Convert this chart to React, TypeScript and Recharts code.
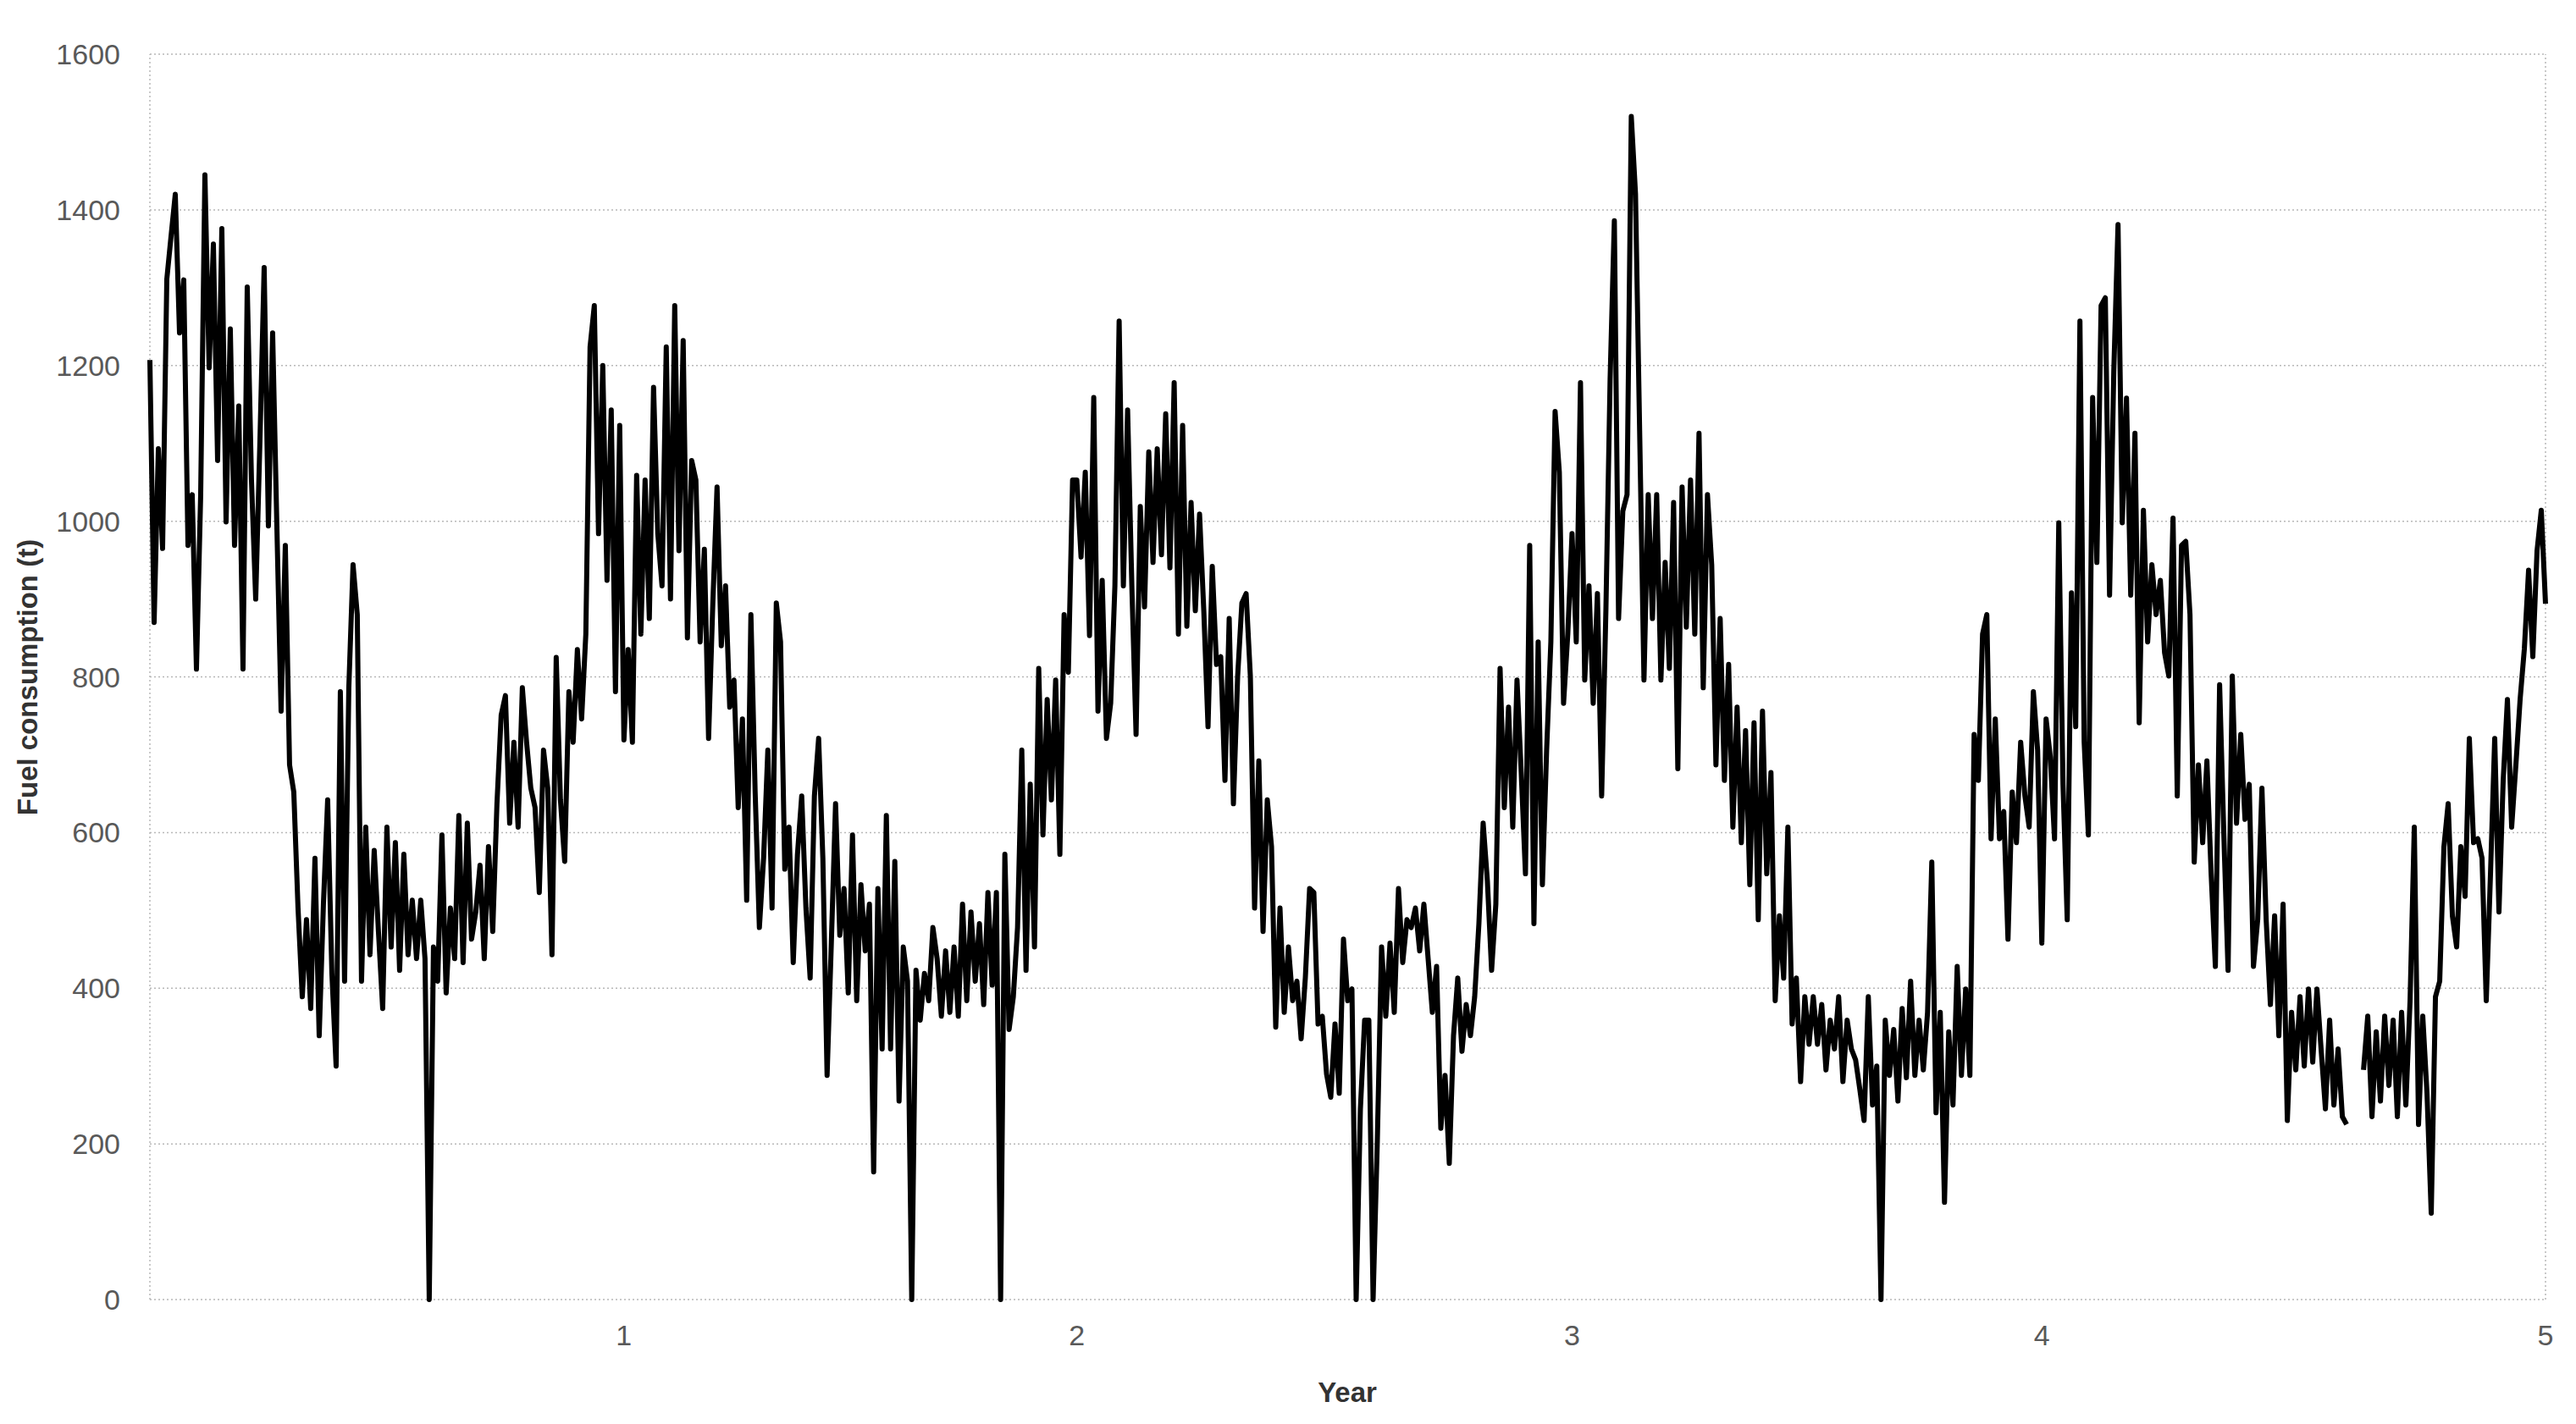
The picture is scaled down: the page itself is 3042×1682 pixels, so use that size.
import React from 'react';
import {
  LineChart,
  Line,
  XAxis,
  YAxis,
  CartesianGrid,
  ReferenceLine,
} from 'recharts';

// daily fuel use in chunks (one value per ~5px of plot)
const YEAR1_WINTER = [
  1207, 870, 1093, 965, 1311, 1366, 1420, 1242, 1310, 969, 1034, 810, 1034,
  1445, 1197, 1356, 1078, 1376, 999, 1247, 969, 1148, 810, 1301, 1053, 900,
  1103, 1326, 994, 1242, 994, 756, 969, 687, 652, 503, 389, 488, 374, 567, 339,
  508, 642, 419, 300, 781, 409, 786, 944, 880, 409, 607, 443, 577, 473, 374,
  607, 453, 587, 423, 572, 443, 513, 438, 513, 438, 0, 453, 409, 597, 394, 503,
  438,
];

const YEAR1_AUTUMN = [
  622, 433, 612, 463, 498, 558, 438, 582, 473, 637, 751, 776, 612, 716, 607,
  786, 716, 657, 632, 523, 706, 657, 443, 825, 642, 563, 781, 716, 835, 746,
  855, 1224, 1277, 984, 1200, 924, 1143, 781, 1123, 719, 835, 716, 1059, 855,
  1053, 875, 1172, 984, 917, 1224, 900, 1277, 962, 1232, 850, 1078, 1053, 845,
  964, 721, 894, 1044, 840, 917, 761, 796, 632, 746, 513, 880, 652, 478,
];

const YEAR2_SUMMER = [
  567, 706, 503, 895, 845, 553, 607, 433, 572, 647, 503, 413, 647, 721, 567,
  288, 458, 637, 468, 528, 394, 597, 384, 533, 448, 508, 164, 528, 322, 622,
  322, 563, 255, 453, 409, 0, 423, 359, 419, 384, 478, 438, 364, 448, 369, 453,
  364, 508, 384, 498, 409, 483, 379, 523, 404, 523, 0, 572, 347, 389, 478, 706,
  423, 662, 453, 811, 597, 771, 642, 796, 572, 880, 806, 1053,
];

const YEAR2_WINTER = [
  1053, 954, 1063, 853, 1159, 756, 924, 721, 766, 917, 1257, 917, 1143, 917,
  726, 1019, 890, 1089, 947, 1093, 957, 1138, 940, 1178, 855, 1123, 865, 1024,
  885, 1009, 885, 736, 942, 816, 826, 667, 875, 637, 801, 895, 907, 801, 503,
  692, 473, 642, 582, 350, 503, 369, 453, 384, 409, 335, 414, 528, 523, 354,
  364, 290, 260, 354, 265, 463, 384, 399, 0, 245, 359, 359, 0, 204, 453, 364,
];

const YEAR3_RISE = [
  458, 369, 528, 433, 488, 478, 503, 448, 508, 438, 369, 428, 220, 288, 175,
  339, 413, 319, 379, 339, 389, 483, 612, 538, 423, 508, 811, 632, 761, 607,
  796, 677, 547, 969, 483, 845, 533, 706, 845, 1141, 1063, 766, 855, 984, 845,
  1178, 796, 917, 766, 907, 647, 885, 1183, 1386, 875, 1013, 1034, 1520, 1420,
  1108, 796, 1034, 875, 1034, 796, 947, 811, 1024, 682, 1044, 864, 1053, 855,
  1113,
];

const YEAR3_FALL = [
  786, 1034, 944, 687, 875, 667, 816, 607, 761, 587, 731, 533, 741, 488, 756,
  547, 677, 384, 493, 413, 607, 354, 413, 280, 389, 328, 389, 328, 379, 295,
  359, 322, 389, 280, 359, 322, 308, 270, 230, 389, 250, 300, 0, 359, 288, 347,
  255, 374, 285, 409, 288, 359, 295, 369, 562, 240, 369, 125, 344, 250, 428,
  288, 399, 288, 726, 667, 855, 880, 592, 746, 592, 627, 463, 652,
];

const YEAR4_PEAK = [
  587, 716, 647, 607, 781, 706, 458, 746, 697, 592, 998, 662, 488, 908, 736,
  1257, 716, 597, 1159, 947, 1277, 1287, 905, 1193, 1381, 998, 1158, 905, 1113,
  741, 1014, 845, 944, 880, 924, 831, 801, 1004, 647, 969, 974, 880, 562, 687,
  587, 692, 547, 428, 790, 597, 423, 801, 612, 726, 617, 662, 428, 488, 657,
  488, 379, 493, 339, 508, 230, 369, 295, 389, 300, 399, 305, 399, 320, 245,
];

const YEAR5_TAIL = [
  359, 250, 322, 235, 225, null, null, null, 295, 364, 235, 344, 255, 364, 275,
  359, 235, 369, 250, 384, 607, 225, 364, 265, 111, 389, 409, 582, 637, 493,
  453, 582, 518, 721, 587, 592, 567, 384, 547, 721, 498, 667, 771, 607, 687,
  771, 836, 937, 826, 962, 1014, 894,
];

const FUEL: (number | null)[] = [
  ...YEAR1_WINTER,
  ...YEAR1_AUTUMN,
  ...YEAR2_SUMMER,
  ...YEAR2_WINTER,
  ...YEAR3_RISE,
  ...YEAR3_FALL,
  ...YEAR4_PEAK,
  ...YEAR5_TAIL,
];

// sample index where each year label sits on the category axis
const YEAR_TICK_DAYS = [112, 219, 336, 447, FUEL.length - 1];
const YEAR_LABELS = ['1', '2', '3', '4', '5'];
const Y_TICKS = [0, 200, 400, 600, 800, 1000, 1200, 1400, 1600];

const chartData = FUEL.map((v, i) => ({ day: i, fuel: v }));

const FONT = '"Liberation Sans", Arial, sans-serif';
const GRID = '#b8b8b8';

export default function App() {
  const lastDay = FUEL.length - 1;
  return (
    <div
      style={{
        position: 'fixed',
        left: 0,
        top: 0,
        width: 3042,
        height: 1682,
        background: '#fff',
        fontFamily: FONT,
      }}
    >
      <LineChart
        width={3042}
        height={1682}
        data={chartData}
        margin={{ top: 64, right: 36, bottom: 25, left: 77 }}
      >
        <CartesianGrid
          vertical={false}
          stroke={GRID}
          strokeWidth={1.5}
          strokeDasharray="2 3"
        />
        <ReferenceLine x={0} stroke={GRID} strokeWidth={1.5} strokeDasharray="2 3" />
        <ReferenceLine x={lastDay} stroke={GRID} strokeWidth={1.5} strokeDasharray="2 3" />
        <XAxis
          dataKey="day"
          type="number"
          domain={[0, lastDay]}
          ticks={YEAR_TICK_DAYS}
          interval={0}
          tickFormatter={(v) => YEAR_LABELS[YEAR_TICK_DAYS.indexOf(v)] ?? ''}
          axisLine={false}
          tickLine={false}
          tickSize={6}
          tickMargin={24}
          height={122}
          tick={{ fill: '#595959', fontSize: 34, fontFamily: FONT }}
        />
        <YAxis
          domain={[0, 1600]}
          ticks={Y_TICKS}
          interval={0}
          axisLine={false}
          tickLine={false}
          tickSize={6}
          tickMargin={29}
          width={100}
          tick={{ fill: '#595959', fontSize: 34, fontFamily: FONT }}
        />
        <Line
          type="linear"
          dataKey="fuel"
          stroke="#000"
          strokeWidth={6}
          strokeLinejoin="round"
          dot={false}
          activeDot={false}
          connectNulls={false}
          isAnimationActive={false}
        />
      </LineChart>
      <div
        style={{
          position: 'absolute',
          left: 1591,
          top: 1645,
          transform: 'translate(-50%, -50%)',
          fontSize: 33,
          fontWeight: 'bold',
          color: '#333',
          whiteSpace: 'nowrap',
        }}
      >
        Year
      </div>
      <div
        style={{
          position: 'absolute',
          left: 33,
          top: 800,
          transform: 'translate(-50%, -50%) rotate(-90deg)',
          fontSize: 33,
          fontWeight: 'bold',
          color: '#333',
          whiteSpace: 'nowrap',
        }}
      >
        Fuel consumption (t)
      </div>
    </div>
  );
}
